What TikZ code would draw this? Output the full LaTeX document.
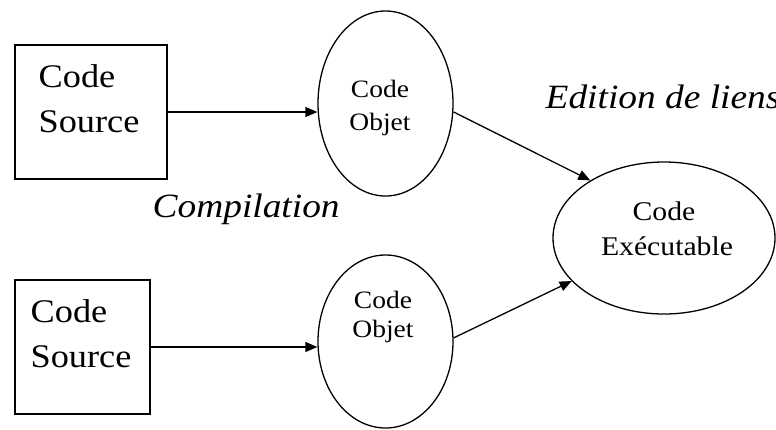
\documentclass[tikz,border=0pt]{standalone}
\usepackage{fontspec}
\setmainfont{Liberation Serif}
\usetikzlibrary{shapes.geometric,arrows.meta}
% slightly widened lettering
\newcommand{\widetxt}[1]{\scalebox{1.1}[1]{#1}}

\begin{document}
\begin{tikzpicture}[x=1pt,y=-1pt,
  line width=1.3pt,
  srcbox/.style={draw,rectangle,inner sep=0pt},
  oval/.style={draw,ellipse,inner sep=0pt},
  boxtxt/.style={inner sep=0pt,anchor=base west,font=\fontsize{33}{33}\selectfont},
  objtxt/.style={inner sep=0pt,anchor=base,font=\fontsize{25}{25}\selectfont},
  exetxt/.style={inner sep=0pt,anchor=base,font=\fontsize{27}{27}\selectfont},
  steptxt/.style={inner sep=0pt,anchor=base west,font=\fontsize{34}{34}\selectfont\itshape},
  link/.style={-{Triangle[length=12pt,width=10pt]}}]
  \useasboundingbox (0,0) rectangle (776,429);

  % source files
  \node[srcbox,minimum width=152pt,minimum height=134pt] (src1) at (91,112) {};
  \node[srcbox,minimum width=135pt,minimum height=134pt] (src2) at (82.5,347) {};

  % object files and the executable
  \node[oval,minimum width=135pt,minimum height=185pt] (obj1) at (385.5,103.5) {};
  \node[oval,minimum width=135pt,minimum height=173pt] (obj2) at (385.5,341.5) {};
  \node[oval,minimum width=222pt,minimum height=152pt] (exe) at (664,238) {};

  % texts
  \node[boxtxt] (s1a) at (38,87) {\widetxt{Code}};
  \node[boxtxt] (s1b) at (38,132) {\widetxt{Source}};
  \node[boxtxt] (s2a) at (30,322) {\widetxt{Code}};
  \node[boxtxt] (s2b) at (30,367) {\widetxt{Source}};
  \node[objtxt] (o1a) at (380,97) {\widetxt{Code}};
  \node[objtxt] (o1b) at (380,130) {\widetxt{Objet}};
  \node[objtxt] (o2a) at (383,308) {\widetxt{Code}};
  \node[objtxt] (o2b) at (383,337) {\widetxt{Objet}};
  \node[exetxt] (ea) at (664,220) {\widetxt{Code}};
  \node[exetxt] (eb) at (667,255) {\widetxt{Exécutable}};
  \node[steptxt] (ldlabel) at (545,108) {\widetxt{Edition de liens}};
  \node[steptxt] (cclabel) at (152,217) {\widetxt{Compilation}};

  % connectors
  \draw[link] (src1.east) -- (obj1.west |- src1.east);
  \draw[link] (src2.east) -- (obj2.west |- src2.east);
  \draw[link] (obj1.-7) -- (exe.142);
  \draw[link] (obj2.3) -- (exe.205);
\end{tikzpicture}
\end{document}
